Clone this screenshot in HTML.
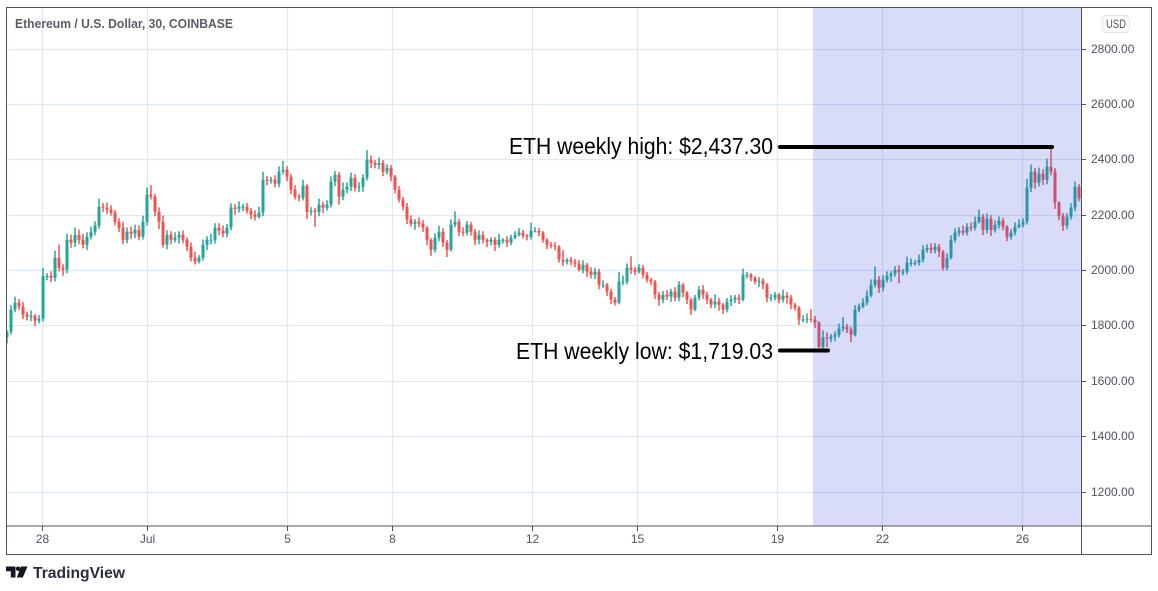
<!DOCTYPE html>
<html lang="en">
<head>
<meta charset="utf-8">
<title>Ethereum / U.S. Dollar chart</title>
<style>
html,body{margin:0;padding:0;background:#fff;width:1158px;height:591px;overflow:hidden}
svg{display:block;font-family:"Liberation Sans",sans-serif}
</style>
</head>
<body>
<svg id="chart" xmlns="http://www.w3.org/2000/svg" width="1158" height="591" viewBox="0 0 1158 591">
  <defs>
    <clipPath id="plot-clip"><rect x="7" y="8" width="1074" height="518"/></clipPath>
  </defs>
  <rect x="0" y="0" width="1158" height="591" fill="#ffffff"/>
  <g id="grid"></g>
  <g id="candles" clip-path="url(#plot-clip)"></g>
  <rect x="813" y="8" width="268" height="518" fill="#3f51e1" fill-opacity="0.2"/>
  <text x="15" y="28" font-size="13" font-weight="bold" fill="#5a5d68" textLength="218" lengthAdjust="spacingAndGlyphs">Ethereum / U.S. Dollar, 30, COINBASE</text>
  <g id="axes">
    <rect x="6.5" y="7.5" width="1145" height="547" fill="none" stroke="#50535e" stroke-width="1"/>
    <line x1="6" y1="526" x2="1152" y2="526" stroke="#50535e" stroke-width="1"/>
    <line x1="1081.5" y1="7" x2="1081.5" y2="555" stroke="#50535e" stroke-width="1"/>
  </g>
  <g id="ticks"></g>
  <g>
    <rect x="1102.5" y="15.5" width="27" height="17" rx="4" fill="#fff" stroke="#e0e3eb"/>
    <text x="1116" y="28" font-size="12" fill="#50535e" text-anchor="middle" textLength="20" lengthAdjust="spacingAndGlyphs">USD</text>
  </g>
  <g>
    <text x="509" y="154" font-size="23" fill="#000000" textLength="264" lengthAdjust="spacingAndGlyphs">ETH weekly high: $2,437.30</text>
    <line x1="780" y1="147" x2="1052" y2="147" stroke="#000" stroke-width="4" stroke-linecap="round"/>
  </g>
  <g>
    <text x="516" y="359" font-size="23" fill="#000000" textLength="257" lengthAdjust="spacingAndGlyphs">ETH weekly low: $1,719.03</text>
    <line x1="780" y1="350.5" x2="828" y2="350.5" stroke="#000" stroke-width="4" stroke-linecap="round"/>
  </g>
  <g>
    <path d="M6 566.5h9.5v11h-4.7v-6.3H6zM21 566.5h6.5l-4.7 11h-6z" fill="#131722"/>
    <circle cx="18.2" cy="568.8" r="2.3" fill="#131722"/>
    <text x="33" y="578" font-size="16" font-weight="bold" fill="#2a2e39" textLength="92" lengthAdjust="spacingAndGlyphs">TradingView</text>
  </g>
</svg>
<script>
const priceTicks = [2800, 2600, 2400, 2200, 2000, 1800, 1600, 1400, 1200];
const timeTickLabels = ["28", "Jul", "5", "8", "12", "15", "19", "22", "26"];
const timeTickDays = [1, 4, 8, 11, 15, 18, 22, 25, 29];
const candleDays = 4 / 35;
const closes = [
1777,1857,1882,1868,1839,1831,1835,1817,1824,1979,1979,1972,2044,2008,2001,2109,2099,2127,2109,2091,
2120,2138,2160,2229,2225,2218,2207,2174,2153,2109,2138,2131,2145,2120,2174,2272,2265,2210,2174,2091,
2127,2109,2117,2127,2109,2084,2044,2030,2044,2091,2109,2109,2153,2142,2131,2153,2225,2221,2229,2229,
2214,2200,2192,2207,2326,2322,2326,2312,2355,2362,2337,2290,2265,2261,2304,2210,2214,2210,2236,2225,
2236,2319,2344,2265,2290,2301,2333,2297,2301,2333,2398,2387,2380,2387,2355,2369,2337,2290,2254,2229,
2182,2167,2174,2167,2153,2109,2073,2117,2138,2099,2073,2164,2174,2138,2135,2164,2138,2109,2127,2109,
2102,2109,2091,2109,2109,2099,2117,2127,2135,2124,2120,2142,2142,2135,2109,2091,2088,2084,2037,2030,
2037,2030,2023,2001,2019,1994,1983,1994,1947,1947,1922,1893,1882,1958,1958,2008,2001,1994,2008,1983,
1965,1958,1911,1893,1911,1904,1922,1900,1947,1918,1893,1857,1900,1929,1911,1893,1875,1886,1875,1857,
1886,1893,1900,1893,1983,1983,1972,1958,1961,1947,1900,1900,1911,1893,1907,1900,1875,1864,1821,1821,
1824,1821,1810,1723,1756,1752,1759,1766,1788,1795,1785,1766,1857,1868,1882,1907,1947,1965,1936,1965,
1979,1986,2001,1994,1994,2026,2026,2026,2037,2073,2080,2073,2084,2066,2008,2044,2109,2135,2142,2135,
2156,2153,2174,2192,2145,2185,2145,2163,2178,2156,2120,2135,2156,2164,2174,2297,2355,2315,2348,2326,
2373,2355,2243,2196,2160,2192,2225,2300,2258
];
const upperWicks = [
6,16,22,13,16,10,19,6,13,29,10,16,26,48,13,22,19,26,19,22,
16,19,16,29,13,19,16,10,13,22,16,19,19,16,22,26,35,10,16,22,
16,13,19,13,16,10,16,22,10,19,13,22,16,16,19,13,16,13,19,10,
13,10,16,22,29,13,10,16,19,32,13,10,16,10,22,6,13,10,22,10,
16,19,13,10,26,16,19,13,16,13,35,16,10,19,10,13,10,6,13,10,
13,16,10,16,13,6,6,16,22,13,10,19,38,10,16,13,10,10,16,13,
6,10,10,22,6,13,10,13,16,10,6,29,13,10,6,6,10,13,6,35,
6,10,10,13,16,6,16,13,10,16,6,10,10,35,22,16,42,10,13,10,
10,6,6,10,13,16,10,16,13,6,6,6,10,13,16,10,6,26,13,6,
13,16,10,13,22,10,6,6,13,10,6,13,10,6,22,13,10,6,6,16,
19,35,13,6,26,19,10,13,19,35,10,10,16,10,16,19,19,48,13,16,
16,10,13,16,10,22,16,10,19,16,13,16,13,10,6,16,16,16,13,19,
13,16,19,26,10,19,13,16,16,10,6,13,16,19,13,32,26,13,22,16,
29,64,13,6,10,13,16,19,10,13
];
const lowerWicks = [
22,10,10,13,16,13,16,19,10,10,16,16,13,13,22,13,19,16,16,13,
19,10,13,10,16,16,10,13,16,16,13,19,16,13,10,13,10,16,26,10,
16,16,10,22,13,16,13,10,6,10,19,16,13,16,13,13,10,22,13,16,
10,16,13,6,13,16,10,13,13,10,16,16,10,13,10,26,13,54,16,19,
10,10,16,29,13,13,16,13,16,19,10,19,13,16,16,10,16,13,10,13,
16,10,22,13,16,19,22,10,13,16,26,6,10,16,13,10,13,19,16,13,
19,13,22,10,13,16,10,6,6,10,13,10,6,13,10,16,10,13,10,16,
10,13,13,6,13,19,13,16,16,13,16,16,10,6,13,10,16,13,6,13,
10,13,16,22,13,13,19,13,13,16,16,19,6,10,16,16,13,13,22,16,
10,16,13,16,6,13,13,10,19,16,16,13,10,13,10,22,16,10,19,10,
13,10,19,4,16,30,13,16,10,10,13,26,6,10,6,10,6,10,19,13,
10,22,10,42,13,10,13,10,10,10,10,13,13,19,10,10,6,10,13,10,
10,13,10,6,19,13,22,10,13,13,16,10,10,6,10,10,16,22,13,19,
16,13,22,16,19,13,10,13,10,32
];

const svgNS = "http://www.w3.org/2000/svg";
const plotLeft = 7;
const plotRight = 1081;
const plotTop = 8;
const plotBottom = 526;

function yScale(price) {
  return 48.5 + (2800 - price) * (443 / 1600);
}
function xScale(days) {
  return plotLeft + days * 35;
}
function make(tag, parent, attrs) {
  const el = document.createElementNS(svgNS, tag);
  Object.keys(attrs).forEach(function (k) { el.setAttribute(k, attrs[k]); });
  parent.appendChild(el);
  return el;
}

const gridGroup = document.getElementById("grid");
const tickGroup = document.getElementById("ticks");
const candleGroup = document.getElementById("candles");

priceTicks.forEach(function (price) {
  const y = Math.round(yScale(price)) + 0.5;
  const line = make("line", gridGroup, { x1: plotLeft, x2: plotRight, y1: y, y2: y, stroke: "#e0e8f1", "stroke-width": 1.3 });
  
  
  const tick = make("line", tickGroup, { x1: 1081, x2: 1086, y1: y, y2: y, stroke: "#50535e", "stroke-width": 1 });
  
  
  const label = make("text", tickGroup, { x: 1091, y: y + 3.5, "font-size": 12, fill: "#50535e" });
  
  
  label.textContent = price.toFixed(2);
});

timeTickDays.forEach(function (day, i) {
  const x = Math.round(xScale(day)) + 0.5;
  const line = make("line", gridGroup, { x1: x, x2: x, y1: plotTop, y2: plotBottom, stroke: "#e0e8f1", "stroke-width": 1.3 });
  
  
  const tick = make("line", tickGroup, { x1: x, x2: x, y1: 526, y2: 531, stroke: "#50535e", "stroke-width": 1 });
  
  
  const label = make("text", tickGroup, { x: x, y: 543, "font-size": 12, fill: "#50535e", "text-anchor": "middle" });
  
  
  label.textContent = timeTickLabels[i];
});

closes.forEach(function (close, i) {
  const open = i > 0 ? closes[i - 1] : close - 20;
  const up = close >= open;
  const color = up ? "#26a69a" : "#ef5350";
  const x = xScale(i * candleDays);
  const high = Math.max(open, close) + (upperWicks[i] || 0);
  const low = Math.min(open, close) - (lowerWicks[i] || 0);
  const wick = make("rect", candleGroup, { x: x - 0.75, width: 1.5, y: yScale(high), height: yScale(low) - yScale(high), fill: color });
  
  
  const bodyTop = yScale(Math.max(open, close));
  const bodyHeight = Math.max(1, yScale(Math.min(open, close)) - bodyTop);
  const body = make("rect", candleGroup, { x: x - 1.5, width: 3, y: bodyTop, height: bodyHeight, fill: color });
  
  
});
</script>
</body>
</html>
